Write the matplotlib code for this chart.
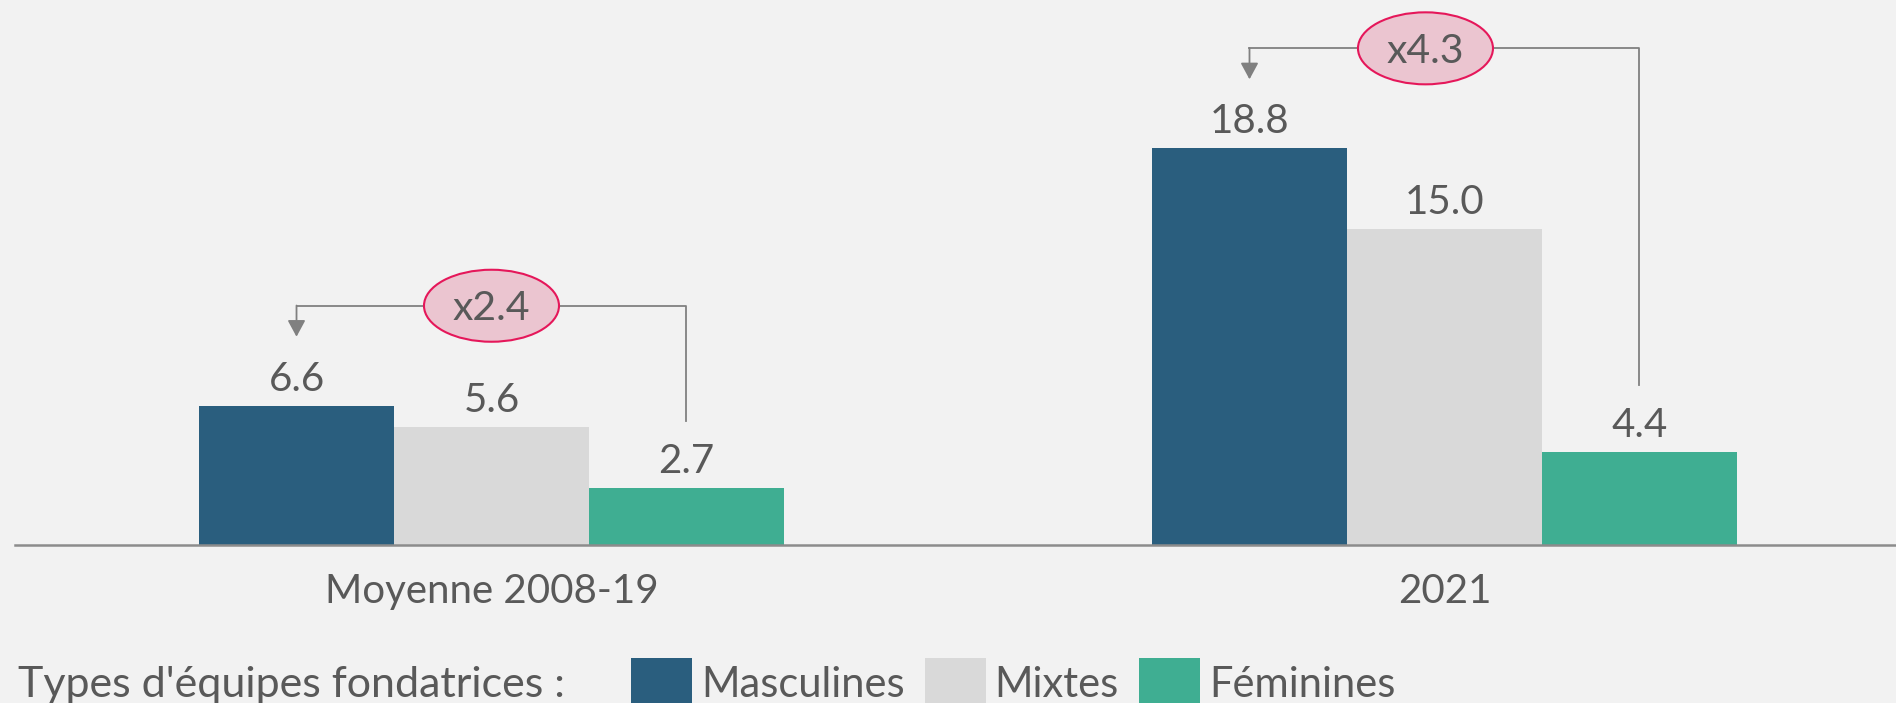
import matplotlib.pyplot as plt
import numpy as np
from matplotlib.patches import Ellipse

# Data
periods = ["Moyenne 2008-19", "2021"]
series = ["Masculines", "Mixtes", "Féminines"]
masculines = [6.6, 18.8]
mixtes = [5.6, 15.0]
feminines = [2.7, 4.4]
legend_title = "Types d'équipes fondatrices :"

# Style
BG = "#F2F2F2"
TXT = "#595959"
LINE = "#808080"
colors = ["#2A5E7E", "#D9D9D9", "#3FAE92"]
plt.rcParams['font.family'] = ['Lato', 'DejaVu Sans']

W, H = 1896, 703
fig = plt.figure(figsize=(W / 100, H / 100), dpi=100, facecolor=BG)
ax_left = 15 / W
ax_bottom = (H - 545) / H
ax = fig.add_axes([ax_left, ax_bottom, 1 - ax_left, 1 - ax_bottom])
ax.set_facecolor(BG)
ax.set_xlim(-0.5, 1.4738)
ax.set_ylim(0, 25.83)

x = np.arange(len(periods))
bw = 0.2046
values = [masculines, mixtes, feminines]
bars = []
for i, (name, vals) in enumerate(zip(series, values)):
    b = ax.bar(x + (i - 1) * bw, vals, bw, color=colors[i], label=name, zorder=2)
    bars.append(b)
    for xi, v in zip(x + (i - 1) * bw, vals):
        ax.annotate(f"{v:.1f}", (xi, v), xytext=(0, 10.8), textcoords="offset points",
                    ha="center", va="baseline", fontsize=29, color=TXT)

# pixel -> data helpers
ppu = ax.bbox.height / (ax.get_ylim()[1] - ax.get_ylim()[0])
ppx = ax.bbox.width / (ax.get_xlim()[1] - ax.get_xlim()[0])

# ratio brackets
ell_shift = [0.0, -19]
for g in range(len(periods)):
    xm = x[g] - bw
    xf = x[g] + bw
    m, f = masculines[g], feminines[g]
    y_line = m + 100 / ppu
    y_tip = m + 69 / ppu
    y_end = f + 67 / ppu
    ax.plot([xf, xf, xm], [y_end, y_line, y_line], color=LINE, lw=1.3, zorder=3)
    ax.annotate("", xy=(xm, y_tip), xytext=(xm, y_line + 0.01),
                arrowprops=dict(arrowstyle="-|>,head_length=1.0,head_width=0.54",
                                color=LINE, lw=1.3, shrinkA=0, shrinkB=0,
                                mutation_scale=10), zorder=3)
    cx = x[g] + ell_shift[g] / ppx
    ax.add_patch(Ellipse((cx, y_line), 135 / ppx, 72 / ppu, facecolor="#EBC5D0",
                         edgecolor="#E5175A", lw=1.5, zorder=4))
    ax.text(cx, y_line - 14.5 / ppu, f"x{m / f:.1f}", ha="center", va="baseline",
            fontsize=29.5, color=TXT, zorder=5)

# axes styling
for s in ["top", "right", "left"]:
    ax.spines[s].set_visible(False)
ax.spines["bottom"].set_color("#8C8C8C")
ax.spines["bottom"].set_linewidth(1.8)
ax.spines["bottom"].set_zorder(3)
ax.set_yticks([])
ax.set_xticks(x, periods)
ax.tick_params(axis="x", length=0, pad=20, labelsize=29, labelcolor=TXT)

# legend
fs = 30
em = fs * 100 / 72
fig.text(18 / W, (H - 697) / H, legend_title, fontsize=31, color=TXT, va="baseline")
fig.legend(handles=bars, labels=series, ncol=3, loc="upper left",
           bbox_to_anchor=(631 / W, 1 - 658 / H), frameon=False, fontsize=fs,
           labelcolor=TXT, handlelength=61 / em, handleheight=61 / em,
           handletextpad=9 / em, columnspacing=20 / em, borderpad=0,
           borderaxespad=0)

fig.savefig("out.png", dpi=100, facecolor=BG)
